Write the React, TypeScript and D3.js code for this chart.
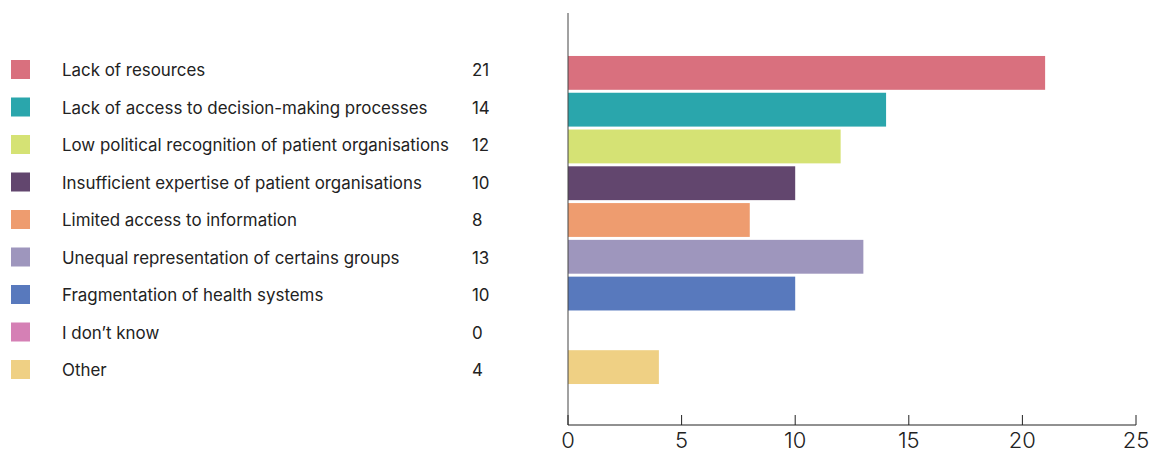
import React from "react";
import * as d3 from "d3";

const categories = [
  "Lack of resources",
  "Lack of access to decision-making processes",
  "Low political recognition of patient organisations",
  "Insufficient expertise of patient organisations",
  "Limited access to information",
  "Unequal representation of certains groups",
  "Fragmentation of health systems",
  "I don\u2019t know",
  "Other",
];
const values = [21, 14, 12, 10, 8, 13, 10, 0, 4];
const colors = [
  "#d9707e",
  "#2aa6ac",
  "#d5e274",
  "#62466e",
  "#ee9c6f",
  "#9e96bd",
  "#5879bd",
  "#d580b5",
  "#efd084",
];
const xTicks = [0, 5, 10, 15, 20, 25];

const W = 1152;
const H = 454;

export default function App() {
  const x = d3.scaleLinear().domain([0, 25]).range([568, 1136]);
  const y = d3
    .scaleBand<string>()
    .domain(categories)
    .range([54.5, 385.5])
    .paddingInner(0.08)
    .paddingOuter(0.04);
  const legendY = d3
    .scalePoint<string>()
    .domain(categories)
    .range([69.5, 369.5]);
  const axisY = 425;
  const font = "Inter, 'Liberation Sans', sans-serif";

  return (
    <svg
      width={W}
      height={H}
      style={{ position: "absolute", left: 0, top: 0, background: "#fff" }}
    >
      {/* legend */}
      {categories.map((c, i) => {
        const cy = legendY(c)!;
        return (
          <g key={c}>
            <rect x={11} y={cy - 9.5} width={19} height={19} fill={colors[i]} />
            <text
              x={62}
              y={cy + 1}
              dy="0.35em"
              fontFamily={font}
              fontSize={16.9}
              fill="#222"
            >
              {c}
            </text>
            <text
              x={472}
              y={cy + 1}
              dy="0.35em"
              fontFamily={font}
              fontSize={16.9}
              fill="#222"
            >
              {values[i]}
            </text>
          </g>
        );
      })}
      {/* bars */}
      {categories.map((c, i) => (
        <rect
          key={c}
          x={x(0)}
          y={y(c)!}
          width={x(values[i]) - x(0)}
          height={y.bandwidth()}
          fill={colors[i]}
        />
      ))}
      {/* y axis line */}
      <line x1={x(0)} x2={x(0)} y1={13} y2={axisY} stroke="#444" strokeWidth={1} />
      {/* x axis */}
      <line x1={x(0)} x2={x(25)} y1={axisY} y2={axisY} stroke="#222" strokeWidth={1} />
      {xTicks.map((t) => (
        <g key={t}>
          <line x1={x(t)} x2={x(t)} y1={axisY} y2={axisY - 10} stroke="#222" strokeWidth={1} />
          <text
            x={x(t)}
            y={448}
            textAnchor="middle"
            fontFamily={font}
            fontWeight={300}
            fontSize={22}
            fill="#222"
          >
            {t}
          </text>
        </g>
      ))}
    </svg>
  );
}
